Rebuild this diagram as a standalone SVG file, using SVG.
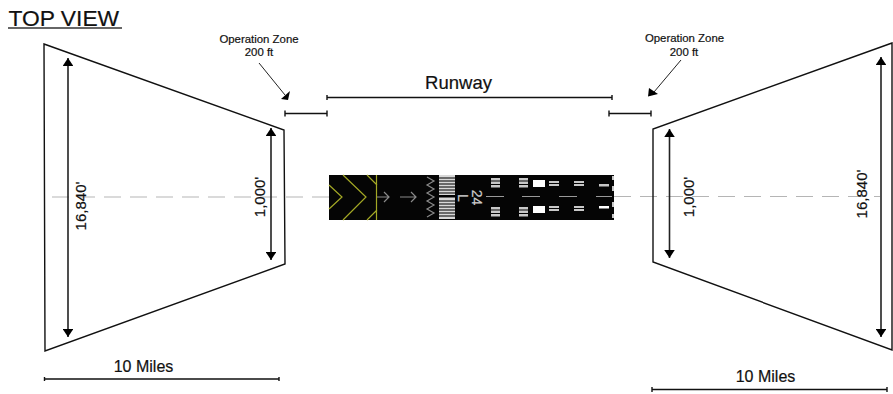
<svg xmlns="http://www.w3.org/2000/svg" width="893" height="394" viewBox="0 0 893 394">
<style>
text{font-family:"Liberation Sans",Arial,sans-serif;fill:#111;stroke:#111;stroke-width:.2}
.l{fill:none;stroke:#111;stroke-width:1.4}
.a{fill:none;stroke:#222;stroke-width:1.6;marker-start:url(#h);marker-end:url(#h)}
.z{font-size:11.4px;text-anchor:middle}
.m{font-size:15px;text-anchor:middle}
.w{fill:#c8c8c8}
.g{fill:none;stroke:#8a8a8a;stroke-width:1.2}
.y{fill:none;stroke:#a3a825;stroke-width:1.2}
.f{fill:#fff}
</style>
<defs>
<marker id="h" viewBox="0 0 8 10.500" refX="8" refY="5.250" markerWidth="8" markerHeight="10.500" orient="auto-start-reverse" markerUnits="userSpaceOnUse"><path d="M0 0L8 5.250L0 10.500Z" fill="#000"/></marker>
</defs>
<rect width="893" height="394" fill="#fff"/>
<g id="title"><text x="8.500" y="25.500" font-size="22.800">TOP VIEW</text><path d="M8 28H122" stroke="#333" stroke-width="1.500"/></g>
<g id="centerline"><path d="M52 197H329M614 196.500H880" stroke="#b5b5b5" stroke-width="1.200" stroke-dasharray="17 9" fill="none"/></g>
<g id="left-zone">
<path class="l" d="M44 44L284 130L285 264L45 351Z"/>
<text transform="translate(86 206) rotate(-90)" class="m">16,840'</text>
<text transform="translate(265 197) rotate(-90)" class="m">1,000'</text>
</g>
<g id="right-zone">
<path class="l" d="M892 43L653 129L653 262L892 350Z"/>
<text transform="translate(694 197) rotate(-90)" class="m">1,000'</text>
<text transform="translate(867 194) rotate(-90)" class="m">16,840'</text>
</g>
<g id="runway">
<rect x="329" y="175" width="285" height="45" fill="#050505"/>
<path class="y" d="M329 185L342 197L329 209M343 175L366 197L343 220M367 175L377 185M367 220L377 210M376.500 175V220"/>
<path class="g" d="M377 197H389M384 192L389 197L384 202M400 197H416M411 192L416 197L411 202"/>
<path class="g" d="M427 177L434 181L427 185L434 189L427 193L434 197L427 201L434 205L427 209L434 213L427 217"/>
<rect x="439" y="175" width="16" height="44" fill="#d8d8d8"/>
<path stroke="#444" stroke-width="1.300" d="M439 178H455M439 181H455M439 184H455M439 187H455M439 190H455M439 193H455M439 201H455M439 204H455M439 207H455M439 210H455M439 213H455M439 216H455"/>
<rect x="439" y="195" width="16" height="2.500" fill="#000"/>
<text transform="translate(472 197.500) rotate(90)" font-size="14" text-anchor="middle" style="fill:#ccc;stroke:#ccc">24</text>
<text transform="translate(458 198) rotate(90)" font-size="14" text-anchor="middle" style="fill:#ccc;stroke:#ccc">L</text>
<path d="M486 196.500H504M522 196.500H540M559 196.500H577M596 196.500H612" stroke="#999" stroke-width="1.200"/>
<g class="w">
<rect x="491" y="178" width="9" height="2.500"/><rect x="491" y="181.500" width="9" height="2.500"/><rect x="491" y="185" width="9" height="2.500"/>
<rect x="491" y="207" width="9" height="2.500"/><rect x="491" y="210.500" width="9" height="2.500"/><rect x="491" y="214" width="9" height="2.500"/>
<rect x="519" y="178" width="9" height="2.500"/><rect x="519" y="181.500" width="9" height="2.500"/><rect x="519" y="185" width="9" height="2.500"/>
<rect x="519" y="207" width="9" height="2.500"/><rect x="519" y="210.500" width="9" height="2.500"/><rect x="519" y="214" width="9" height="2.500"/>
<rect x="533" y="180" width="12" height="7" class="f"/><rect x="533" y="206" width="12" height="7" class="f"/>
<rect x="549" y="181" width="10" height="2"/><rect x="549" y="184" width="10" height="2"/><rect x="549" y="206" width="10" height="2"/><rect x="549" y="209" width="10" height="2"/>
<rect x="574" y="181" width="10" height="2"/><rect x="574" y="184" width="10" height="2"/><rect x="574" y="206" width="10" height="2"/><rect x="574" y="209" width="10" height="2"/>
<rect x="599" y="184" width="10" height="2.500"/><rect x="599" y="206" width="10" height="2.500" class="f"/>
<rect x="612" y="176" width="2" height="4"/><rect x="612" y="186" width="2" height="5"/><rect x="612" y="202" width="2" height="5"/><rect x="612" y="214" width="2" height="4"/>
</g>
</g>
<g id="labels">
<text x="259" y="43" class="z">Operation Zone</text><text x="259" y="55.500" class="z">200 ft</text>
<text x="684.500" y="42" class="z">Operation Zone</text><text x="684" y="55.500" class="z">200 ft</text>
<text x="458.500" y="89" font-size="18.500" text-anchor="middle">Runway</text>
<text x="143.500" y="372" class="m" style="font-size:16px">10 Miles</text>
<text x="765.500" y="382" class="m" style="font-size:16px">10 Miles</text>
</g>
<g id="connectors">
<path class="a" d="M68 58V337"/>
<path class="a" d="M271 128V260"/>
<path class="a" d="M669.500 129V258"/>
<path class="a" d="M881 57V337"/>
<path d="M259 63L285 95" fill="none" stroke="#222" stroke-width="1"/><path d="M290 91L288 100L281 99Z" fill="#000"/>
<path d="M681 60L654 92" fill="none" stroke="#222" stroke-width="1"/><path d="M649 88L648 96.500L658 94Z" fill="#000"/>
<path class="l" d="M285 113.500H327M285 110.500V116.500M327 110.500V116.500"/>
<path class="l" d="M609 113.500H651M609 110.500V116.500M651 110.500V116.500"/>
<path class="l" d="M327 97.500H612M327 95V100M612 95V100"/>
<path class="l" d="M44.500 379H279M44.500 377V381M279 377V381"/>
<path class="l" d="M652 389.500H887M652 387V392M887 387V392"/>
</g>
</svg>
